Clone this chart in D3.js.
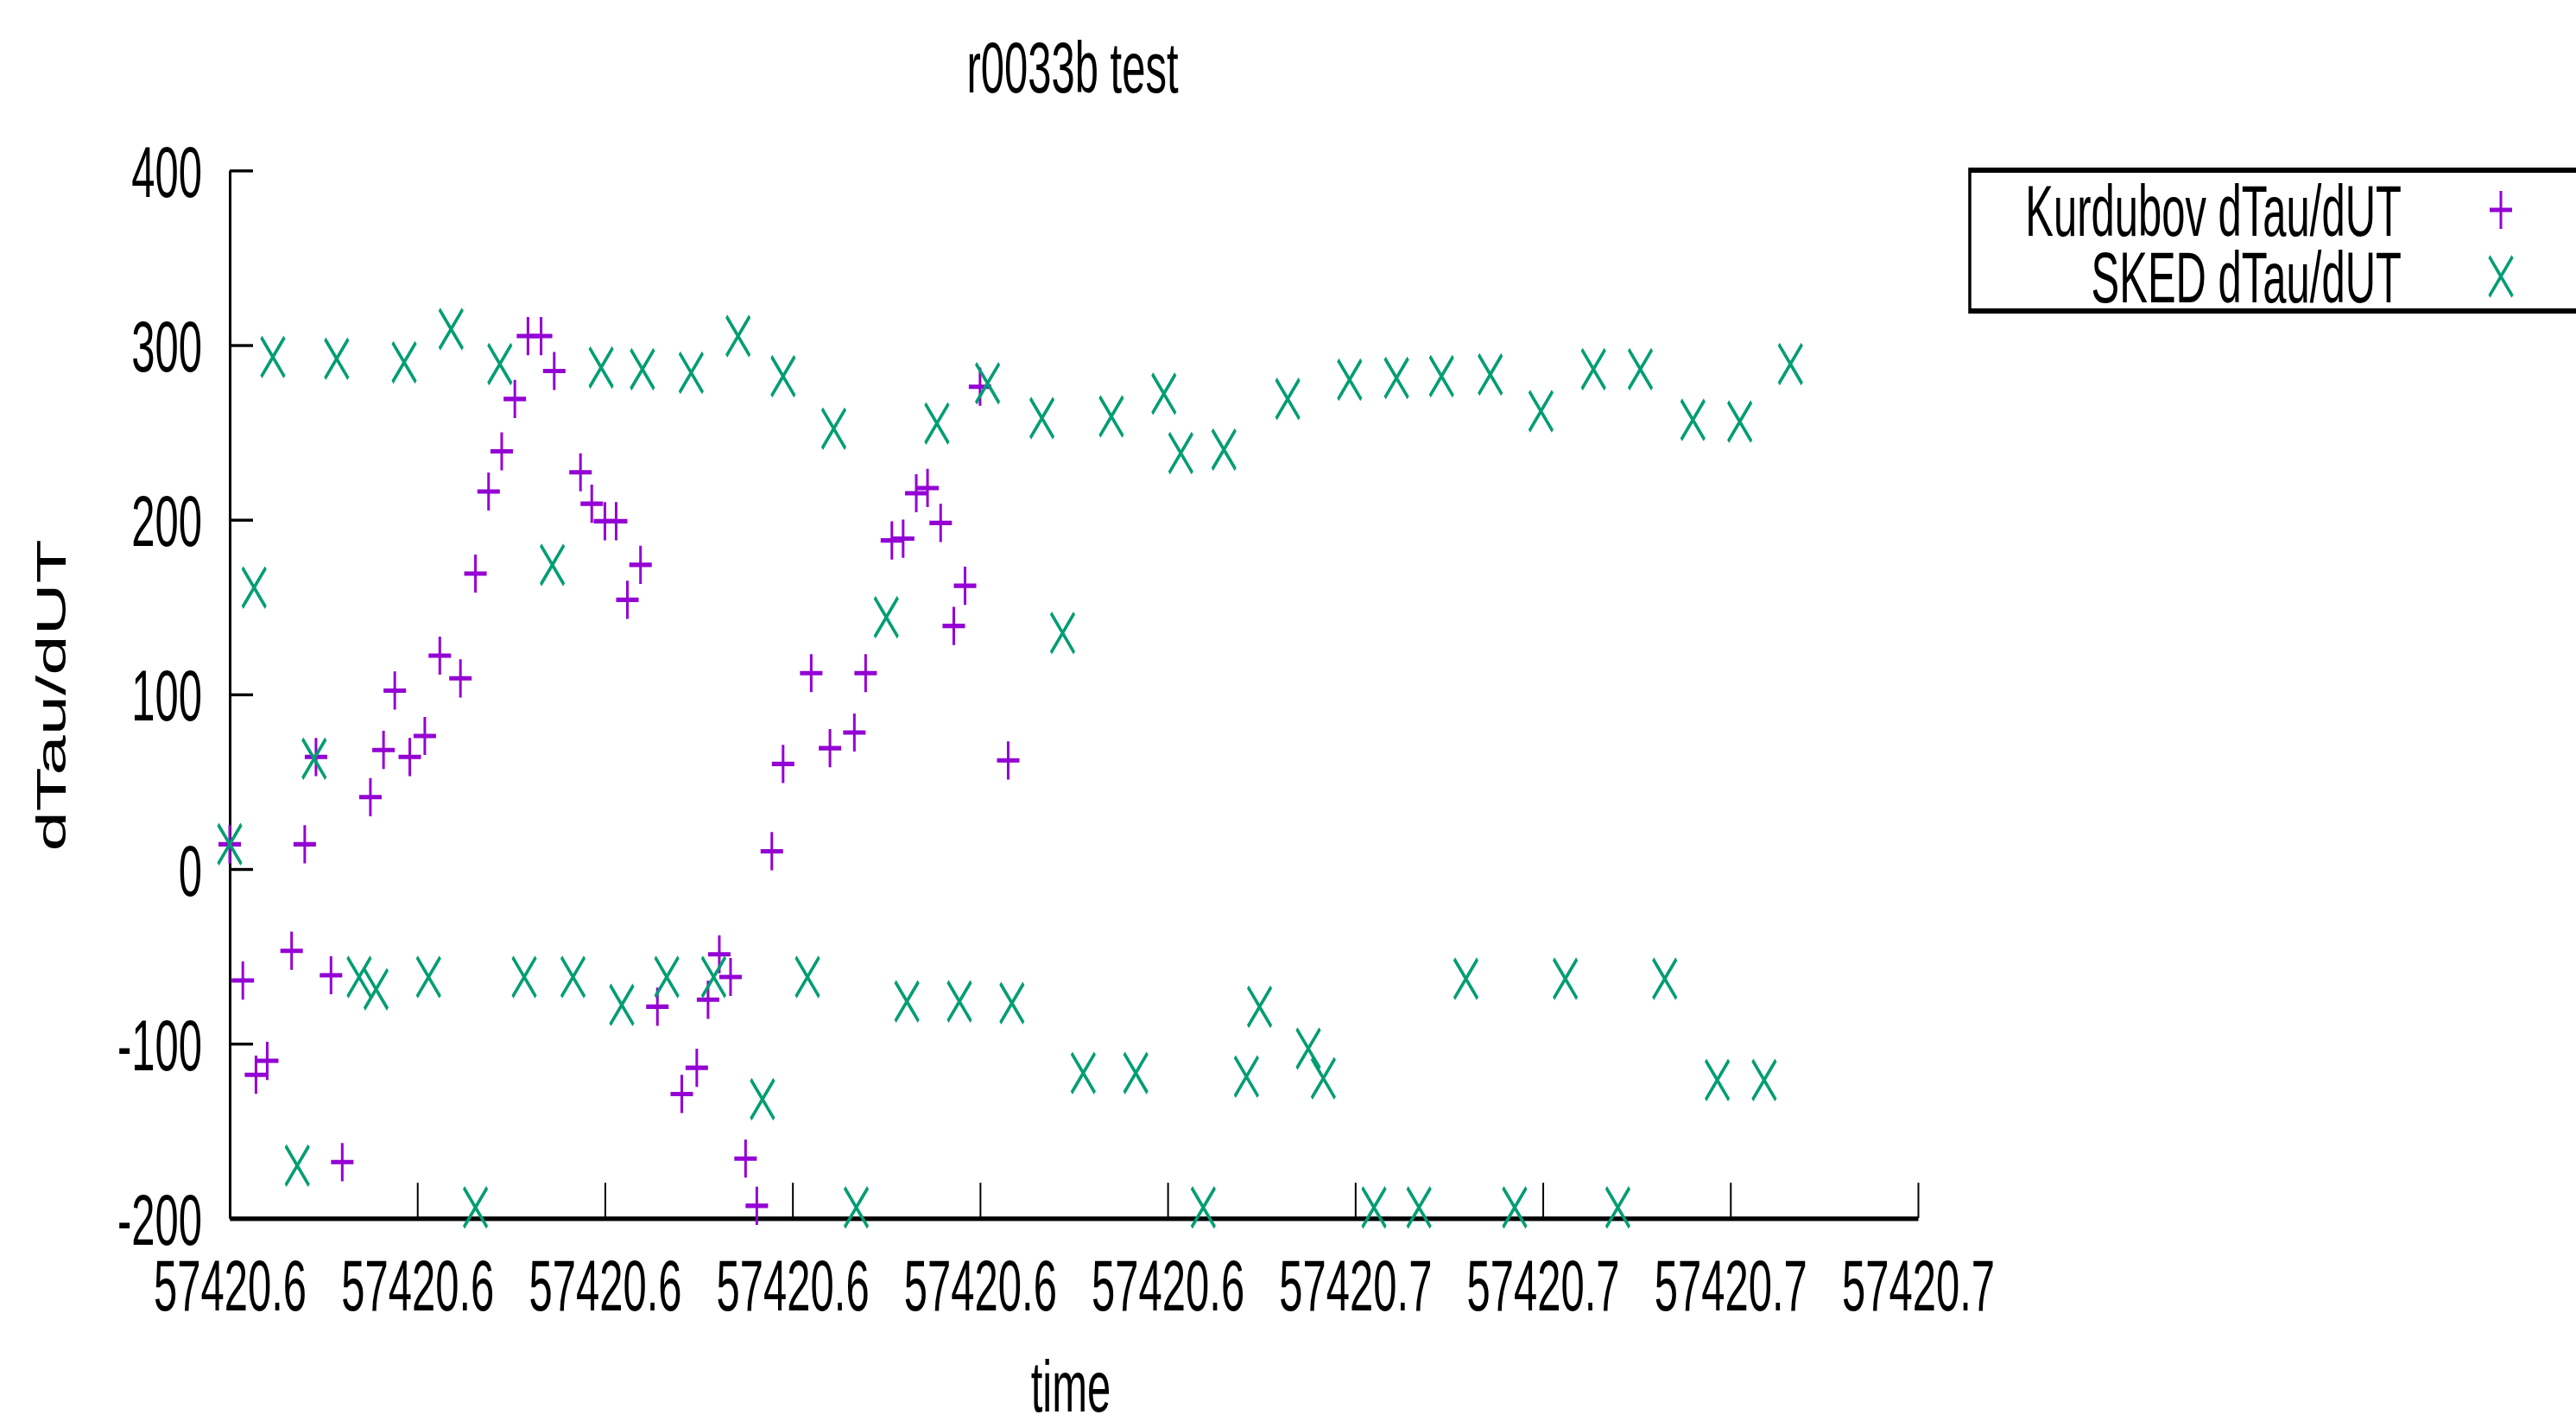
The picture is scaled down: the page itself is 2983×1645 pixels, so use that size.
<!DOCTYPE html>
<html>
<head>
<meta charset="utf-8">
<title>r0033b test</title>
<script src="https://cdn.jsdelivr.net/npm/d3@7"></script>
<style>
    body { margin: 0; background: #fff; }
    text { font-family: "Liberation Sans", Arial, sans-serif; }
</style>
</head>
<body>
<div id="chart"></div>
<script>
    // Kurdubov dTau/dUT
    const kurdubovTime = [
        57420.6000, 57420.6007, 57420.6014, 57420.6020, 57420.6033, 57420.6040, 57420.6046, 57420.6054,
        57420.6060, 57420.6075, 57420.6082, 57420.6088, 57420.6096, 57420.6104, 57420.6112, 57420.6123,
        57420.6131, 57420.6138, 57420.6145, 57420.6152, 57420.6159, 57420.6166, 57420.6173, 57420.6187,
        57420.6193, 57420.6200, 57420.6206, 57420.6212, 57420.6219, 57420.6228, 57420.6241, 57420.6249,
        57420.6255, 57420.6261, 57420.6267, 57420.6275, 57420.6281, 57420.6289, 57420.6295, 57420.6310,
        57420.6320, 57420.6333, 57420.6339, 57420.6353, 57420.6359, 57420.6366, 57420.6372, 57420.6379,
        57420.6386, 57420.6392, 57420.6400, 57420.6415
    ];
    const kurdubovRate = [
        14, -64, -118, -110, -47, 14, 64, -61,
        -168, 41, 68, 102, 64, 76, 122, 109,
        169, 216, 239, 269, 305, 305, 285, 227,
        209, 199, 199, 154, 174, -79, -129, -114,
        -75, -49, -62, -166, -193, 10, 60, 112,
        69, 78, 112, 188, 189, 215, 218, 198,
        139, 162, 276, 62
    ];

    // SKED dTau/dUT
    const skedTime = [
        57420.6000, 57420.6013, 57420.6023, 57420.6036, 57420.6045, 57420.6057, 57420.6069, 57420.6078,
        57420.6093, 57420.6106, 57420.6118, 57420.6131, 57420.6144, 57420.6157, 57420.6172, 57420.6183,
        57420.6198, 57420.6209, 57420.6220, 57420.6233, 57420.6246, 57420.6258, 57420.6271, 57420.6284,
        57420.6295, 57420.6308, 57420.6322, 57420.6334, 57420.6350, 57420.6361, 57420.6377, 57420.6389,
        57420.6404, 57420.6417, 57420.6433, 57420.6444, 57420.6455, 57420.6470, 57420.6483, 57420.6498,
        57420.6507, 57420.6519, 57420.6530, 57420.6542, 57420.6549, 57420.6564, 57420.6575, 57420.6583,
        57420.6597, 57420.6610, 57420.6622, 57420.6634, 57420.6646, 57420.6659, 57420.6672, 57420.6685,
        57420.6699, 57420.6712, 57420.6727, 57420.6740, 57420.6752, 57420.6765, 57420.6780, 57420.6793,
        57420.6805, 57420.6818, 57420.6832
    ];
    const skedRate = [
        14, 161, 293, -170, 63, 292, -62, -69,
        290, -62, 309, -194, 289, -62, 174, -62,
        287, -78, 286, -62, 284, -62, 305, -132,
        282, -62, 252, -194, 144, -76, 255, -76,
        278, -77, 258, 135, -117, 259, -117, 272,
        238, -194, 240, -119, -79, 269, -103, -120,
        280, -194, 281, -194, 282, -63, 283, -194,
        262, -63, 286, -194, 286, -63, 257, -121,
        256, -121, 289
    ];

    const seriesNames = ["Kurdubov dTau/dUT", "SKED dTau/dUT"];
    const seriesColors = ["#9400d3", "#009e73"];

    const xTickValues = [57420.60, 57420.61, 57420.62, 57420.63, 57420.64,
                         57420.65, 57420.66, 57420.67, 57420.68, 57420.69];
    const xTickLabels = ["57420.6", "57420.6", "57420.6", "57420.6", "57420.6",
                         "57420.6", "57420.7", "57420.7", "57420.7", "57420.7"];
    const yTickValues = [-200, -100, 0, 100, 200, 300, 400];

    const width = 2983, height = 1645;
    // the picture is stretched vertically, so draw in a squashed space and scale it back up
    const S = 1.7;
    const fontSize = 49;

    const svg = d3.select("#chart").append("svg")
        .attr("width", width)
        .attr("height", height);

    const g = svg.append("g")
        .attr("transform", `scale(1,${S})`);

    const x = d3.scaleLinear()
        .domain([57420.60, 57420.69])
        .range([266, 2221]);

    const y = d3.scaleLinear()
        .domain([-200, 400])
        .range([1410 / S, 197 / S]);

    // y axis, ticks pointing inward; plain hyphen for negatives
    const yAxisG = g.append("g")
        .attr("transform", `translate(${x.range()[0]},0)`)
        .call(d3.axisLeft(y)
            .tickValues(yTickValues)
            .tickFormat(d => String(d))
            .tickSizeInner(-27)
            .tickSizeOuter(0)
            .tickPadding(32));

    // x axis, ticks pointing up
    const xAxisG = g.append("g")
        .attr("transform", `translate(0,${y.range()[0]})`)
        .call(d3.axisBottom(x)
            .tickValues(xTickValues)
            .tickFormat((d, i) => xTickLabels[i])
            .tickSizeInner(-24)
            .tickSizeOuter(0)
            .tickPadding(28));

    [yAxisG, xAxisG].forEach(a => {
        a.attr("font-size", fontSize).attr("font-family", null);
        a.select(".domain").attr("stroke", "#000").attr("stroke-width", 3);
        a.selectAll(".tick line").attr("stroke", "#000").attr("stroke-width", 2);
        a.selectAll(".tick text").attr("fill", "#000");
    });
    yAxisG.selectAll(".tick text").attr("dy", "0.36em");

    // marker shapes: gnuplot pointtype 1 (+) and 2 (x)
    const plusPath = h => `M${-h},0H${h}M0,${-h}V${h}`;
    const crossPath = h => `M${-h},${-h}L${h},${h}M${-h},${h}L${h},${-h}`;
    const markers = [plusPath(13), crossPath(13.5)];

    const series = [
        { time: kurdubovTime, rate: kurdubovRate },
        { time: skedTime, rate: skedRate }
    ];

    series.forEach((s, k) => {
        const pts = s.time.map((t, i) => ({ t: t, v: s.rate[i] }));
        g.append("g").selectAll("path")
            .data(pts)
            .enter().append("path")
            .attr("transform", d => `translate(${x(d.t)},${y(d.v)})`)
            .attr("d", markers[k])
            .attr("fill", "none")
            .attr("stroke", seriesColors[k])
            .attr("stroke-width", 3);
    });

    // title and axis labels
    g.append("text")
        .attr("x", 1242)
        .attr("y", 107 / S)
        .attr("text-anchor", "middle")
        .attr("font-size", fontSize)
        .text("r0033b test");

    g.append("text")
        .attr("transform", `translate(76,${805 / S}) rotate(-90)`)
        .attr("text-anchor", "middle")
        .attr("font-size", fontSize)
        .text("dTau/dUT");

    g.append("text")
        .attr("x", 1240)
        .attr("y", 1634 / S)
        .attr("text-anchor", "middle")
        .attr("font-size", fontSize)
        .text("time");

    // legend box runs off the right edge
    const legTop = 197 / S, legBottom = 360 / S, legLeft = 2281;
    g.append("path")
        .attr("d", `M3010,${legTop}H${legLeft}V${legBottom}H3010`)
        .attr("fill", "none")
        .attr("stroke", "#000")
        .attr("stroke-width", 3.5);

    const legRows = [243 / S, 320 / S];
    seriesNames.forEach((name, k) => {
        g.append("text")
            .attr("x", 2781)
            .attr("y", legRows[k])
            .attr("dy", "0.36em")
            .attr("text-anchor", "end")
            .attr("font-size", fontSize)
            .text(name);
        g.append("path")
            .attr("transform", `translate(2896,${legRows[k]})`)
            .attr("d", markers[k])
            .attr("fill", "none")
            .attr("stroke", seriesColors[k])
            .attr("stroke-width", 3);
    });
</script>
</body>
</html>
